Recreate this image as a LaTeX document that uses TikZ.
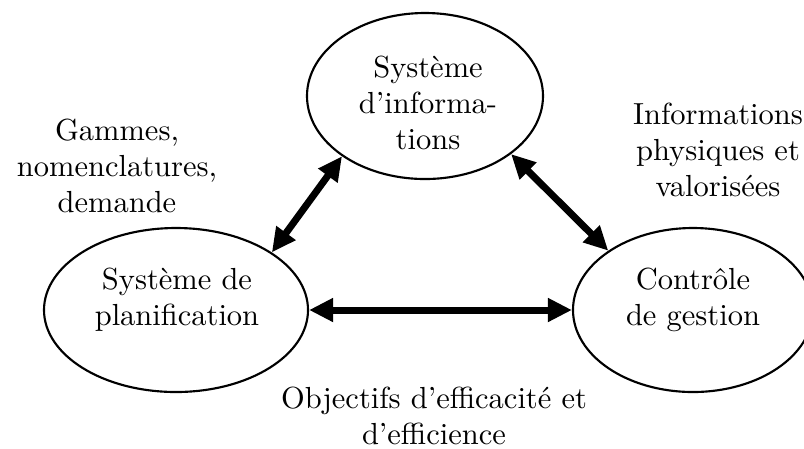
\documentclass[tikz,border=0pt]{standalone}
\usetikzlibrary{shapes.geometric,arrows.meta}
\begin{document}
\begin{tikzpicture}[x=0.328pt,y=-0.328pt,
  blob/.style={draw,ellipse,line width=0.7pt,inner sep=0pt},
  txt/.style={align=center,inner sep=0pt,font=\fontsize{10}{11.8}\selectfont},
  flow/.style={line width=2.3pt,
    {Triangle[length=7.9pt,width=7.4pt]}-{Triangle[length=7.9pt,width=7.4pt]}}]
  \useasboundingbox (0,0) rectangle (804,448);
  \begin{scope}
  \clip (0,0) rectangle (804,448);
  % the three systems
  \node[blob,minimum width=236*0.328pt,minimum height=166*0.328pt] (T) at (425,96) {};
  \node[blob,minimum width=264*0.328pt,minimum height=164*0.328pt] (L) at (176,310) {};
  \node[blob,minimum width=240*0.328pt,minimum height=164*0.328pt] (R) at (693,310) {};
  \node[txt] (Tt) at (428,103) {Système\\d’informa-\\tions};
  \node[txt] (Lt) at (177,300) {Système de\\planification};
  \node[txt] (Rt) at (693,300) {Contrôle\\de gestion};
  % exchanges between them
  \draw[flow] (L.31.7) -- (T.216.6);
  \draw[flow] (T.-34.9) -- (R.145.1);
  \draw[flow] (L.east) -- (R.west);
  % what travels along each link
  \node[txt] (g) at (117,166) {Gammes,\\nomenclatures,\\demande};
  \node[txt] (i) at (718,150) {Informations\\physiques et\\valorisées};
  \node[txt] (o) at (434,416) {Objectifs d’efficacité et\\d’efficience};
  \end{scope}
\end{tikzpicture}
\end{document}
